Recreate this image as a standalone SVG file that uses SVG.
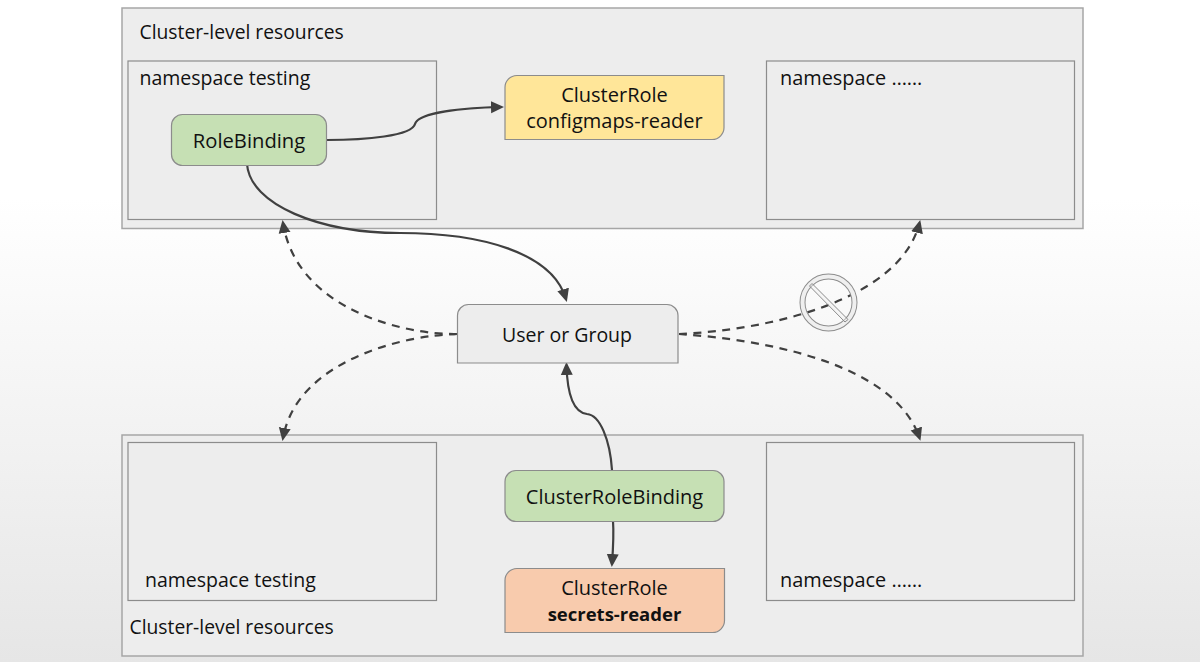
<svg xmlns="http://www.w3.org/2000/svg" width="1200" height="662" viewBox="0 0 1200 662">
<style>
text{font-family:"Open Sans","Noto Sans","Liberation Sans",sans-serif;font-size:19.5px;fill:#111}
.m{text-anchor:middle}
.t{font-size:19.3px}
.w{font-size:20px}
.box{fill:#ededed;stroke:#a6a6a6;stroke-width:1.5}
.ns{fill:#ededed;stroke:#8c8c8c;stroke-width:1.2}
.n{stroke:#8c8c8c;stroke-width:1.2}
.c{fill:none;stroke:#404040;stroke-width:2.2}
.d{stroke-dasharray:8 6.5}
.f{stroke:#8c8c8c;stroke-width:1}
</style>
<defs>
<linearGradient id="bg" x1="0" y1="0" x2="0" y2="1"><stop offset="0.3" stop-color="#fff"/><stop offset="1" stop-color="#e6e6e6"/></linearGradient>
<marker id="a" markerUnits="userSpaceOnUse" markerWidth="15" markerHeight="14" refX="10" refY="6.500" orient="auto"><path d="M0 0.500L13 6.500L0 12.500Z" fill="#404040"/></marker>
</defs>
<rect width="1200" height="662" fill="url(#bg)"/>
<g id="cluster-top"><rect class="box" x="122" y="8" width="961" height="220.500"/><text class="t" x="139.500" y="38.500">Cluster-level resources</text></g>
<g id="cluster-bottom"><rect class="box" x="122" y="435" width="961" height="221"/><text class="t" x="129.500" y="634">Cluster-level resources</text></g>
<g id="ns-testing-top"><rect class="ns" x="128" y="61" width="308.500" height="158.500"/><text x="139.500" y="84.500">namespace testing</text></g>
<g id="ns-other-top"><rect class="ns" x="766.500" y="61" width="308" height="158.500"/><text x="780" y="84.500" style="font-size:19.9px">namespace ……</text></g>
<g id="ns-testing-bottom"><rect class="ns" x="128" y="442.500" width="308.500" height="158"/><text x="145" y="587">namespace testing</text></g>
<g id="ns-other-bottom"><rect class="ns" x="766.500" y="442.500" width="308" height="158"/><text x="780" y="587" style="font-size:19.9px">namespace ……</text></g>
<g id="connectors">
<path class="c" d="M327 140C365 140 412 136 415 124C418 112 465 108 501 107" marker-end="url(#a)"/>
<path class="c" d="M247 164C250 205 320 233 400 233C480 233 552 252 566 299" marker-end="url(#a)"/>
<path class="c" d="M612 470C610 440 600 415 587 414C570 412 567 385 566.500 365" marker-end="url(#a)"/>
<path class="c" d="M613 521C614 535 613 550 612 564" marker-end="url(#a)"/>
<path class="c d" d="M457 334C405 335 297 310 283 223" marker-end="url(#a)"/>
<path class="c d" d="M457 334C405 335 297 360 283 438" marker-end="url(#a)"/>
<path class="c d" d="M679 334C770 330 900 300 919.500 223" marker-end="url(#a)"/>
<path class="c d" d="M679 334C770 340 895 365 919.500 438" marker-end="url(#a)"/>
</g>
<g id="rolebinding"><rect class="n" x="171.500" y="114.500" width="155" height="51" rx="11" fill="#c6e0b4"/><text class="m" x="249" y="148" style="font-size:20.200px">RoleBinding</text></g>
<g id="clusterrole-configmaps"><path class="n" d="M517 75.500H724V127a12 12 0 0 1-12 12.500H505V88a12 12 0 0 1 12-12.500Z" fill="#ffe699"/><text class="m w" x="614.500" y="102">ClusterRole</text><text class="m w" x="614.500" y="128">configmaps-reader</text></g>
<g id="user-or-group"><path class="n" d="M469 304.500H667a11 11 0 0 1 11 11V363H457.500V315.500a11 11 0 0 1 11-11Z" fill="#ededed"/><text class="m" x="567" y="342">User or Group</text></g>
<g id="clusterrolebinding"><rect class="n" x="505" y="470.500" width="219" height="51" rx="11" fill="#c6e0b4"/><text class="m w" x="614.500" y="504">ClusterRoleBinding</text></g>
<g id="clusterrole-secrets"><path class="n" d="M517 568.500H724.500V620a12 12 0 0 1-12 12.500H505V581a12 12 0 0 1 12-12.500Z" fill="#f8cbad"/><text class="m w" x="614.500" y="595">ClusterRole</text><text class="m" x="614.500" y="621" font-weight="700" style="font-size:18.500px">secrets-reader</text></g>
<g id="forbidden">
<circle cx="828.500" cy="302.500" r="26" fill="none" stroke="#8c8c8c" stroke-width="6"/>
<circle cx="828.500" cy="302.500" r="26" fill="none" stroke="#efefef" stroke-width="4"/>
<path class="f" d="M809.500 286L812 283.500L848 319.500L845 322Z" fill="#efefef" fill-opacity="0.45"/>
</g>
</svg>
